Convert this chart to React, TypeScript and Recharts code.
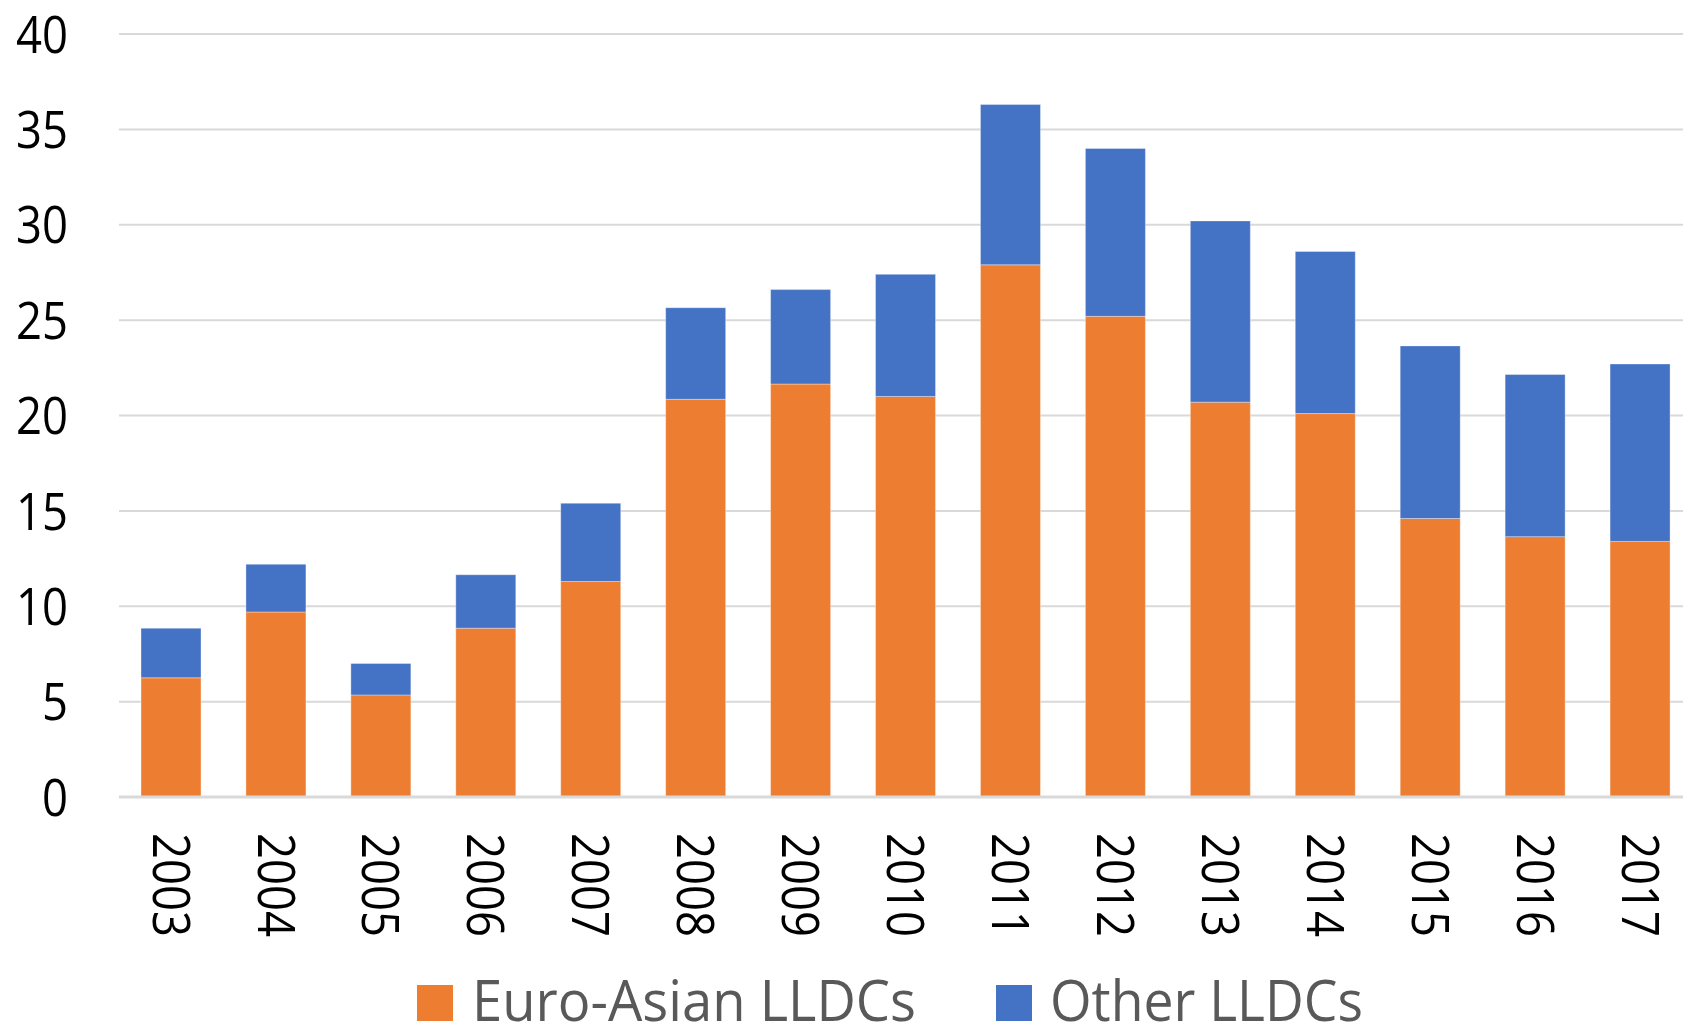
import { BarChart, Bar, XAxis, YAxis, CartesianGrid } from "recharts";

const YEARS = [
  "2003", "2004", "2005", "2006", "2007", "2008", "2009", "2010",
  "2011", "2012", "2013", "2014", "2015", "2016", "2017",
];
const EURO_ASIAN = [6.25, 9.7, 5.35, 8.85, 11.3, 20.85, 21.65, 21.0, 27.9, 25.2, 20.7, 20.1, 14.6, 13.65, 13.4];
const OTHER = [2.6, 2.5, 1.65, 2.8, 4.1, 4.8, 4.95, 6.4, 8.4, 8.8, 9.5, 8.5, 9.05, 8.5, 9.3];
const Y_TICKS = [0, 5, 10, 15, 20, 25, 30, 35, 40];

const SERIES = [
  { key: "euroAsian", name: "Euro-Asian LLDCs", color: "#ED7D31" },
  { key: "other", name: "Other LLDCs", color: "#4472C4" },
];

const FONT = "'Open Sans', 'DejaVu Sans', sans-serif";

// y axis labels, right aligned, narrow like Calibri
const YTick = ({ x, y, payload }: any) => {
  const label = String(payload.value);
  return (
    <text
      x={x}
      y={y}
      dy="0.36em"
      textAnchor="end"
      fontSize={52}
      fontFamily={FONT}
      fill="#000"
      textLength={26 * label.length}
      lengthAdjust="spacingAndGlyphs"
    >
      {label}
    </text>
  );
};

// year labels turned to read top-down
const XTick = ({ x, y, payload }: any) => (
  <text
    x={x}
    y={y}
    dy="0.37em"
    textAnchor="start"
    fontSize={51}
    fontFamily={FONT}
    fill="#000"
    transform={`rotate(90, ${x}, ${y})`}
    textLength={104}
    lengthAdjust="spacingAndGlyphs"
  >
    {payload.value}
  </text>
);

const LegendRow = () => {
  const items = [
    { ...SERIES[0], boxX: 417, textX: 472, textLen: 444 },
    { ...SERIES[1], boxX: 996, textX: 1050, textLen: 313 },
  ];
  return (
    <svg
      width={1683}
      height={70}
      style={{ position: "absolute", left: 0, top: 960 }}
    >
      {items.map((item) => (
        <g key={item.key}>
          <rect x={item.boxX} y={25} width={36} height={36} fill={item.color} />
          <text
            x={item.textX}
            y={61}
            fontSize={57}
            fontFamily={FONT}
            fill="#595959"
            textLength={item.textLen}
            lengthAdjust="spacingAndGlyphs"
          >
            {item.name}
          </text>
        </g>
      ))}
    </svg>
  );
};

export default function App() {
  const chartData = YEARS.map((year, i) => ({
    year,
    euroAsian: EURO_ASIAN[i],
    other: OTHER[i],
  }));

  return (
    <div
      style={{
        position: "absolute",
        left: 0,
        top: 0,
        width: 1683,
        height: 1025,
        overflow: "hidden",
        background: "#fff",
      }}
    >
      <BarChart
        width={1693}
        height={1025}
        data={chartData}
        margin={{ top: 34, right: 0, bottom: 0, left: 0 }}
        barSize={60}
      >
        <CartesianGrid vertical={false} stroke="#D9D9D9" strokeWidth={2} />
        <XAxis
          dataKey="year"
          height={228}
          tickSize={0}
          tickMargin={36}
          tickLine={false}
          axisLine={{ stroke: "#D9D9D9", strokeWidth: 3 }}
          tick={<XTick />}
          interval={0}
        />
        <YAxis
          width={119}
          domain={[0, 40]}
          ticks={Y_TICKS}
          tickSize={0}
          tickMargin={51}
          tickLine={false}
          axisLine={false}
          tick={<YTick />}
        />
        {SERIES.map((s) => (
          <Bar
            key={s.key}
            dataKey={s.key}
            name={s.name}
            stackId="total"
            fill={s.color}
            stroke="#ffffff"
            strokeOpacity={0.35}
            strokeWidth={1}
            isAnimationActive={false}
          />
        ))}
      </BarChart>
      <LegendRow />
    </div>
  );
}
